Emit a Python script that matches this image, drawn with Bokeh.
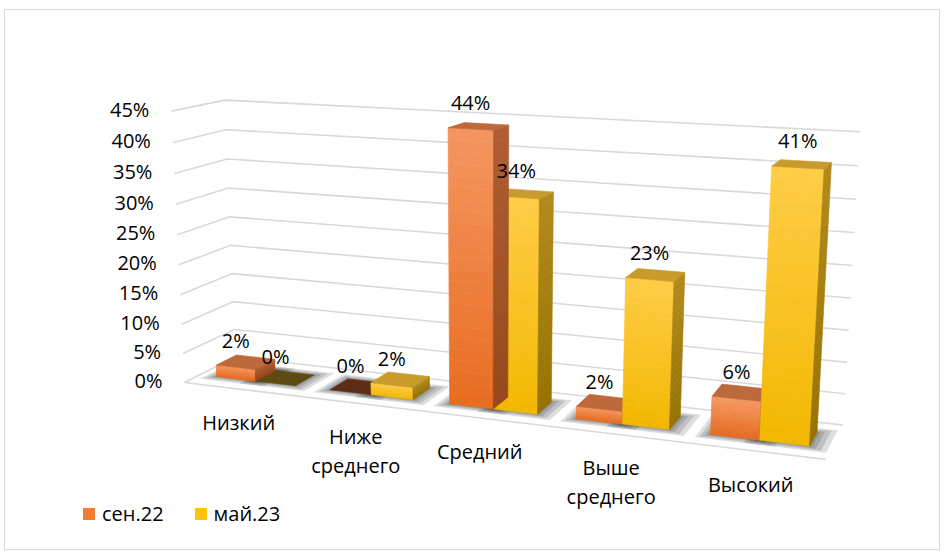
import numpy as np
from bokeh.plotting import figure
from bokeh.models import Range1d, ColumnDataSource, Legend, LegendItem
from bokeh.embed import file_html
from bokeh.resources import INLINE
from bokeh.core.properties import value

# ---------------- data ----------------
categories = ["Низкий", "Ниже\nсреднего", "Средний", "Выше\nсреднего", "Высокий"]
series_names = ["сен.22", "май.23"]
sep22 = [2, 0, 44, 2, 6]
may23 = [0, 2, 34, 23, 41]
y_ticks = [0, 5, 10, 15, 20, 25, 30, 35, 40, 45]
y_tick_labels = ["0%", "5%", "10%", "15%", "20%", "25%", "30%", "35%", "40%", "45%"]

# ---------------- style / layout ----------------
W, H = 944, 553
Y_MAX = 45
N_CAT = len(categories)
FONT = "Open Sans"
FS = "20px"
GRID = "#D9D9D9"
BAR_W = 0.35          # width of one bar in category units
Z0, Z1 = 0.30, 0.70   # depth extent of bars inside the box (0 = front, 1 = back)

FRONT_BOT = [(232, 108, 32), (242, 184, 0)]
FRONT_TOP = [(244, 150, 96), (255, 204, 70)]
SIDE_BOT = [(150, 72, 28), (150, 114, 0)]
SIDE_TOP = [(176, 94, 52), (178, 138, 28)]
TOP_COL = ["#BE693C", "#C89B2D"]
TOP_ZERO = ["#5C2C14", "#5E4B12"]
LEGEND_COL = ["#F07D32", "#FFC20E"]

# camera: where reference points of the 3D plot box (cat, value, depth) sit on the page
calib = [
    ((0, 45, 1), (228, 97)),
    ((5, 45, 1), (860, 131)),
    ((0, 0, 1), (232, 365)),
    ((5, 0, 1), (842, 420)),
    ((5, 20, 1), (850, 296)),
    ((0, 45, 0), (168, 112)),
    ((0, 0, 0), (187, 377)),
    ((0, 20, 0), (178, 263)),
    ((5, 0, 0), (826, 466)),
    ((2.5, 0, Z0), (492, 405)),
    ((2.5, 44, Z0), (492, 130)),
    ((4.5, 0, Z0), (760, 438)),
    ((4.5, 41, Z0), (771, 169)),
]


def fit_camera(pairs):
    rows = []
    for (X, Y, Z), (u, v) in pairs:
        Xn, Yn, Zn = X / N_CAT, Y / Y_MAX, Z
        un, vn = u / 1000.0, v / 1000.0
        rows.append([Xn, Yn, Zn, 1, 0, 0, 0, 0, -un * Xn, -un * Yn, -un * Zn, -un])
        rows.append([0, 0, 0, 0, Xn, Yn, Zn, 1, -vn * Xn, -vn * Yn, -vn * Zn, -vn])
    _, _, vt = np.linalg.svd(np.array(rows, float))
    return vt[-1].reshape(3, 4)


CAM = fit_camera(calib)
_, _, vtc = np.linalg.svd(CAM)
cc = vtc[-1]
CAM_POS = cc[:3] / cc[3] * np.array([N_CAT, Y_MAX, 1.0])


def proj(pts):
    pts = np.asarray(pts, float).reshape(-1, 3)
    h = np.column_stack([pts[:, 0] / N_CAT, pts[:, 1] / Y_MAX, pts[:, 2], np.ones(len(pts))])
    r = h @ CAM.T
    return list(r[:, 0] / r[:, 2] * 1000.0), list(r[:, 1] / r[:, 2] * 1000.0)


def hexc(c):
    return "#%02X%02X%02X" % tuple(int(round(x)) for x in c)


def lerp(a, b, t):
    return tuple(a[k] + (b[k] - a[k]) * t for k in range(3))


p = figure(width=W, height=H, x_range=Range1d(0, W), y_range=Range1d(H, 0),
           output_backend="svg", toolbar_location=None, min_border=0,
           x_axis_location=None, y_axis_location=None)
p.grid.visible = False
p.outline_line_color = None
p.background_fill_color = "white"

# chart border
p.quad(left=[4], right=[939], top=[9], bottom=[549], fill_color=None, line_color=GRID, line_width=1)

# ---------------- walls gridlines ----------------
gx, gy = [], []
for t in y_ticks:
    xs, ys = proj([(0, t, 0), (0, t, 1), (N_CAT, t, 1)])
    gx.append(xs); gy.append(ys)
xs, ys = proj([(0, 0, 0), (N_CAT, 0, 0)])
gx.append(xs); gy.append(ys)
p.multi_line(gx, gy, line_color=GRID, line_width=1.6)

# tick labels on the front-left edge
tx, ty = proj([(0, t, 0) for t in y_ticks])
p.text(x=tx, y=ty, text=y_tick_labels, text_align="right", text_baseline="middle",
       x_offset=-22, y_offset=-2, text_font=value(FONT), text_font_size=FS, text_color="#000000")

# ---------------- bars ----------------
bars = []
for s, vals in enumerate([sep22, may23]):
    for i, v in enumerate(vals):
        x0 = i + 0.5 - BAR_W + s * BAR_W
        bars.append(dict(s=s, i=i, v=v, x0=x0, x1=x0 + BAR_W))

# soft shadows on the floor
sh_x, sh_y = [], []
for b in bars:
    for m in (0.13, 0.09, 0.05, 0.02):
        xs, ys = proj([(b["x0"] - m * 0.7, 0, Z0 - m), (b["x1"] + m, 0, Z0 - m),
                       (b["x1"] + m, 0, Z1 + m), (b["x0"] - m * 0.7, 0, Z1 + m)])
        sh_x.append(xs); sh_y.append(ys)
p.patches(sh_x, sh_y, fill_color="#000000", fill_alpha=0.13, line_color=None)


def visible(normal, center):
    return float(np.dot(normal, CAM_POS - np.asarray(center))) > 0


def dist(b):
    c = np.array([(b["x0"] + b["x1"]) / 2, b["v"] / 2, (Z0 + Z1) / 2])
    return float(np.linalg.norm(CAM_POS - c))


fx, fy, fc = [], [], []
NSTRIP = 24
for b in sorted(bars, key=dist, reverse=True):
    s, v, x0, x1 = b["s"], b["v"], b["x0"], b["x1"]
    if v > 0:
        faces = [
            ((0, 0, -1), lambda ya, yb: [(x0, ya, Z0), (x1, ya, Z0), (x1, yb, Z0), (x0, yb, Z0)], FRONT_BOT[s], FRONT_TOP[s], (x0 + x1) / 2, Z0),
            ((0, 0, 1), lambda ya, yb: [(x0, ya, Z1), (x1, ya, Z1), (x1, yb, Z1), (x0, yb, Z1)], SIDE_BOT[s], SIDE_TOP[s], (x0 + x1) / 2, Z1),
            ((1, 0, 0), lambda ya, yb: [(x1, ya, Z0), (x1, ya, Z1), (x1, yb, Z1), (x1, yb, Z0)], SIDE_BOT[s], SIDE_TOP[s], x1, (Z0 + Z1) / 2),
            ((-1, 0, 0), lambda ya, yb: [(x0, ya, Z0), (x0, ya, Z1), (x0, yb, Z1), (x0, yb, Z0)], SIDE_BOT[s], SIDE_TOP[s], x0, (Z0 + Z1) / 2),
        ]
        for normal, builder, cb, ct, fcx, fcz in faces:
            if not visible(normal, (fcx, v / 2, fcz)):
                continue
            for k in range(NSTRIP):
                ya, yb = v * k / NSTRIP, v * (k + 1) / NSTRIP
                xs, ys = proj(builder(ya, yb))
                fx.append(xs); fy.append(ys)
                fc.append(hexc(lerp(cb, ct, (k + 0.5) / NSTRIP)))
    xs, ys = proj([(x0, v, Z0), (x1, v, Z0), (x1, v, Z1), (x0, v, Z1)])
    fx.append(xs); fy.append(ys)
    fc.append(TOP_COL[s] if v > 0 else TOP_ZERO[s])

src = ColumnDataSource(dict(xs=fx, ys=fy, c=fc))
p.patches("xs", "ys", source=src, fill_color="c", line_color="c", line_width=0.6)

# value labels, above the front top edge of each bar
lx, ly, lt = [], [], []
for b in bars:
    xs, ys = proj([((b["x0"] + b["x1"]) / 2, b["v"], Z0)])
    lx.append(xs[0]); ly.append(ys[0]); lt.append("%d%%" % b["v"])
p.text(x=lx, y=ly, text=lt, text_align="center", text_baseline="alphabetic", y_offset=-27,
       text_font=value(FONT), text_font_size=FS, text_color="#000000")

# category labels under the floor front edge
cx, cy = proj([(i + 0.5, 0, 0) for i in range(N_CAT)])
p.text(x=cx, y=cy, text=categories, text_align="center", text_baseline="top",
       x_offset=-2, y_offset=20, text_line_height=1.07,
       text_font=value(FONT), text_font_size=FS, text_color="#000000")

# legend (swatches come from two off-page quads)
r1 = p.quad(left=[-20], right=[-10], bottom=[-20], top=[-10], fill_color=LEGEND_COL[0], line_color=None)
r2 = p.quad(left=[-20], right=[-10], bottom=[-20], top=[-10], fill_color=LEGEND_COL[1], line_color=None)
legend = Legend(items=[LegendItem(label=series_names[0], renderers=[r1]),
                       LegendItem(label=series_names[1], renderers=[r2])],
                orientation="horizontal", location=(81, 26),
                label_text_font=FONT, label_text_font_size=FS, label_text_color="#000000",
                glyph_width=15, glyph_height=15, label_standoff=6, spacing=29,
                padding=0, margin=0, border_line_color=None, background_fill_alpha=0)
p.add_layout(legend)

open("out.html", "w").write(file_html(p, INLINE))
